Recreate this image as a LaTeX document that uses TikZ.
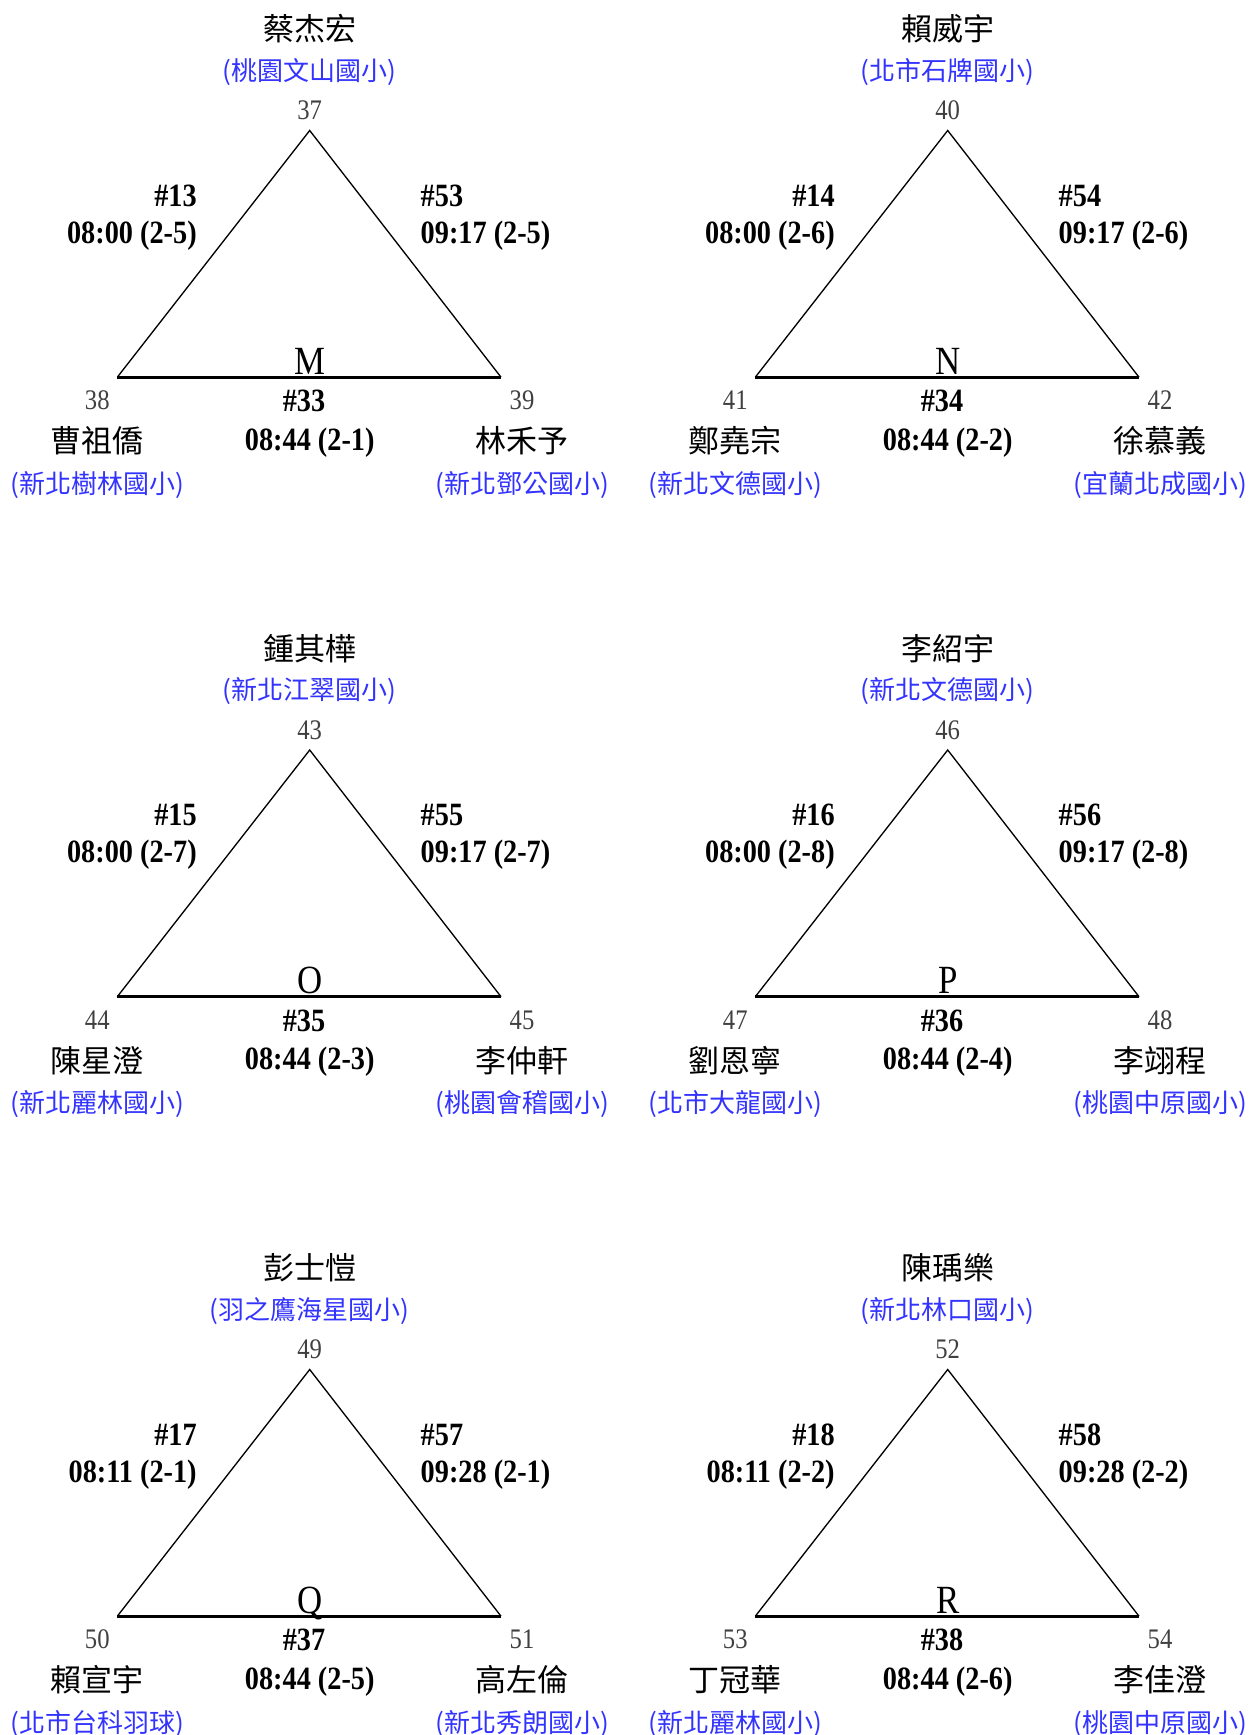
\documentclass[tikz,border=0pt]{standalone}
\usepackage{fontspec}
\setmainfont{Liberation Serif}
\newfontfamily\tallserif[FakeStretch=0.87]{Liberation Serif}
\newfontfamily\cjk{Noto Sans CJK TC}
\usepackage{xcolor}
\usepackage{tikz}

\definecolor{schoolblue}{RGB}{51,51,255}
\definecolor{seatgray}{RGB}{64,64,64}
\tikzset{
  player/.style={font=\cjk\fontsize{18.6}{20}\selectfont, inner sep=0pt},
  school/.style={font=\cjk\fontsize{15.6}{17}\selectfont, text=schoolblue, inner sep=0pt},
  seat/.style={font=\tallserif\fontsize{17}{19}\selectfont, text=seatgray, inner sep=0pt},
  match/.style={font=\tallserif\bfseries\fontsize{19.5}{21}\selectfont, inner sep=0pt},
  grp/.style={font=\tallserif\fontsize{24}{26}\selectfont, inner sep=0pt, anchor=base},
  side/.style={line width=0.8pt},
  baseline/.style={line width=1.7pt},
}

\begin{document}
\begin{tikzpicture}[x=0.6pt,y=-0.6pt]
    \useasboundingbox (0,0) rectangle (1250,1735);
    \foreach \dx/\dy/\g/\pa/\sa/\pb/\sb/\pc/\sc/\na/\ma/\ta/\tb/\tc [count=\i] in {
        0/0/M/蔡杰宏/(桃園文山國小)/曹祖僑/(新北樹林國小)/林禾予/(新北鄧公國小)/37/13/08:00 (2-5)/09:17 (2-5)/08:44 (2-1),
        638/0/N/賴威宇/(北市石牌國小)/鄭堯宗/(新北文德國小)/徐慕義/(宜蘭北成國小)/40/14/08:00 (2-6)/09:17 (2-6)/08:44 (2-2),
        0/619.5/O/鍾其樺/(新北江翠國小)/陳星澄/(新北麗林國小)/李仲軒/(桃園會稽國小)/43/15/08:00 (2-7)/09:17 (2-7)/08:44 (2-3),
        638/619.5/P/李紹宇/(新北文德國小)/劉恩寧/(北市大龍國小)/李翊程/(桃園中原國小)/46/16/08:00 (2-8)/09:17 (2-8)/08:44 (2-4),
        0/1239/Q/彭士愷/(羽之鷹海星國小)/賴宣宇/(北市台科羽球)/高左倫/(新北秀朗國小)/49/17/08:11 (2-1)/09:28 (2-1)/08:44 (2-5),
        638/1239/R/陳瑀樂/(新北林口國小)/丁冠華/(新北麗林國小)/李佳澄/(桃園中原國小)/52/18/08:11 (2-2)/09:28 (2-2)/08:44 (2-6)}
    {
    \pgfmathtruncatemacro\nb{\na+1}
    \pgfmathtruncatemacro\nc{\na+2}
    \pgfmathtruncatemacro\mb{\ma+40}
    \pgfmathtruncatemacro\mc{\ma+20}
    \begin{scope}[shift={(\dx,\dy)}]
        \coordinate (apex\i) at (309.7,130.5);
        \coordinate (left\i) at (117.3,377.2);
        \coordinate (right\i) at (501,377.2);
        \draw[side] (left\i) -- (apex\i) -- (right\i);
        \draw[baseline] (left\i) -- (right\i);
        \node[grp] (grp\i) at (309.7,374) {\g};
        % top seat
        \node[player] (top\i) at (309.7,29) {\pa};
        \node[school] (topschool\i) at (309.7,72) {\sa};
        \node[seat] (topseat\i) at (309.7,110.6) {\na};
        % left and right sides
        \node[match, anchor=east] (lnum\i) at (197,195.5) {\#\ma};
        \node[match, anchor=east] (ltime\i) at (197,235.5) {\ta};
        \node[match, anchor=west] (rnum\i) at (420.4,195.5) {\#\mb};
        \node[match, anchor=west] (rtime\i) at (420.4,235.5) {\tb};
        \node[match] (bnum\i) at (304,401) {\#\mc};
        \node[match] (btime\i) at (309.7,442.5) {\tc};
        % bottom seats
        \node[seat] (lseat\i) at (97.3,400.4) {\nb};
        \node[player] (lplayer\i) at (97.3,441) {\pb};
        \node[school] (lschool\i) at (97.3,485) {\sb};
        \node[seat] (rseat\i) at (522,400.4) {\nc};
        \node[player] (rplayer\i) at (522,441) {\pc};
        \node[school] (rschool\i) at (522,485) {\sc};
    \end{scope}
    }
\end{tikzpicture}
\end{document}
